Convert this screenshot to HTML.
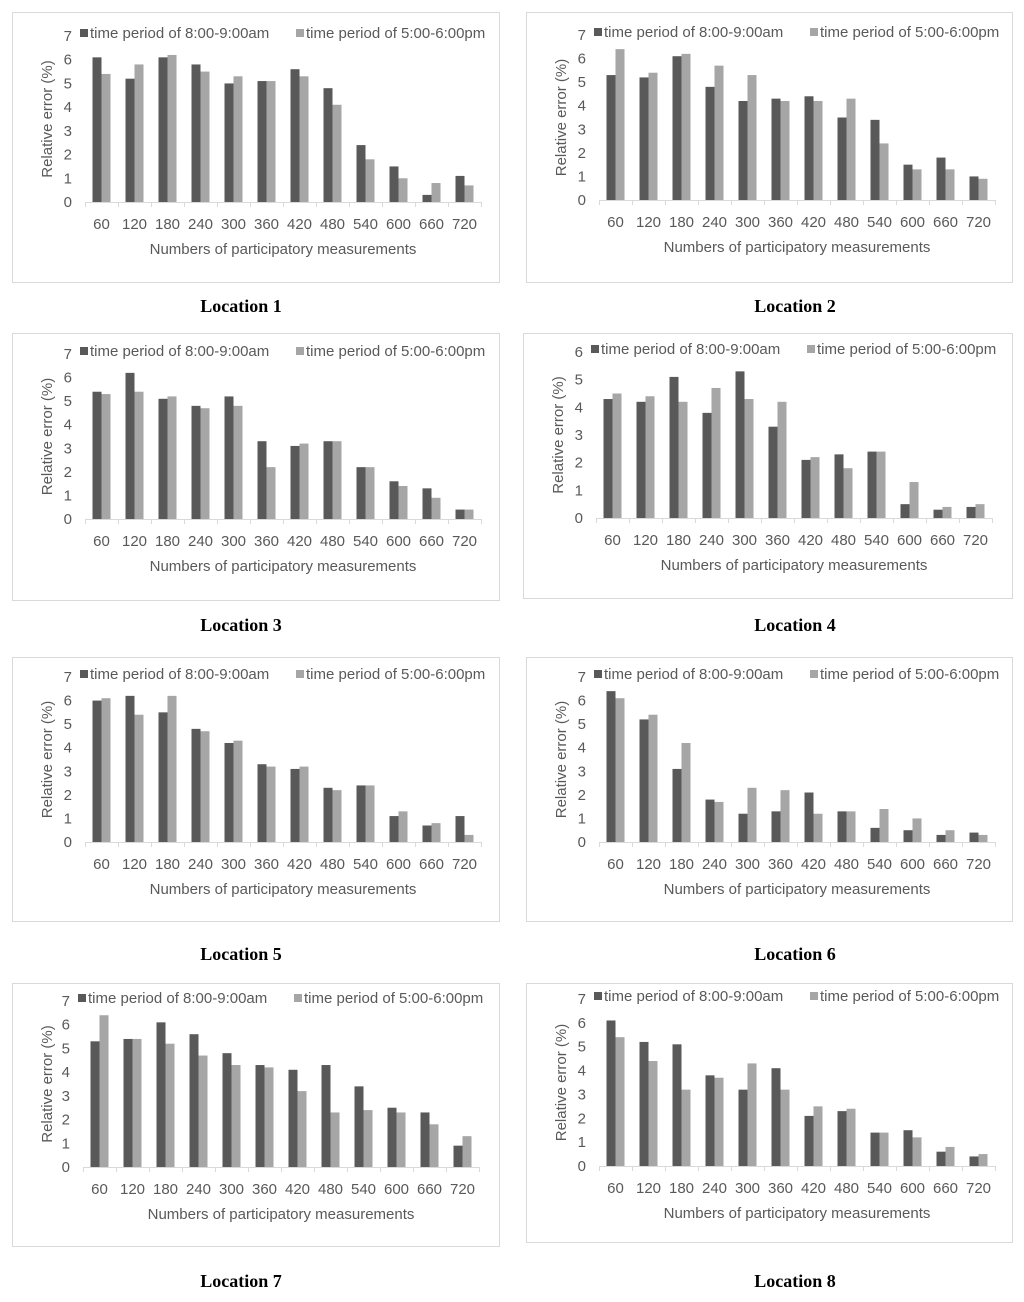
<!DOCTYPE html>
<html><head><meta charset="utf-8"><style>
body{margin:0;background:#fff}
svg{display:block;font-family:"Liberation Sans",sans-serif}
.t{fill:#595959;font-size:15px}
.loc{font-family:"Liberation Serif",serif;font-weight:bold;font-size:18px;fill:#000}
</style></head><body>
<svg id="s" width="1024" height="1302" viewBox="0 0 1024 1302"></svg>
<script>
const categories=[60,120,180,240,300,360,420,480,540,600,660,720];
const seriesNames=["time period of 8:00-9:00am","time period of 5:00-6:00pm"];
const loc1Am=[6.1,5.2,6.1,5.8,5.0,5.1,5.6,4.8,2.4,1.5,0.3,1.1];
const loc1Pm=[5.4,5.8,6.2,5.5,5.3,5.1,5.3,4.1,1.8,1.0,0.8,0.7];
const loc2Am=[5.3,5.2,6.1,4.8,4.2,4.3,4.4,3.5,3.4,1.5,1.8,1.0];
const loc2Pm=[6.4,5.4,6.2,5.7,5.3,4.2,4.2,4.3,2.4,1.3,1.3,0.9];
const loc3Am=[5.4,6.2,5.1,4.8,5.2,3.3,3.1,3.3,2.2,1.6,1.3,0.4];
const loc3Pm=[5.3,5.4,5.2,4.7,4.8,2.2,3.2,3.3,2.2,1.4,0.9,0.4];
const loc4Am=[4.3,4.2,5.1,3.8,5.3,3.3,2.1,2.3,2.4,0.5,0.3,0.4];
const loc4Pm=[4.5,4.4,4.2,4.7,4.3,4.2,2.2,1.8,2.4,1.3,0.4,0.5];
const loc5Am=[6.0,6.2,5.5,4.8,4.2,3.3,3.1,2.3,2.4,1.1,0.7,1.1];
const loc5Pm=[6.1,5.4,6.2,4.7,4.3,3.2,3.2,2.2,2.4,1.3,0.8,0.3];
const loc6Am=[6.4,5.2,3.1,1.8,1.2,1.3,2.1,1.3,0.6,0.5,0.3,0.4];
const loc6Pm=[6.1,5.4,4.2,1.7,2.3,2.2,1.2,1.3,1.4,1.0,0.5,0.3];
const loc7Am=[5.3,5.4,6.1,5.6,4.8,4.3,4.1,4.3,3.4,2.5,2.3,0.9];
const loc7Pm=[6.4,5.4,5.2,4.7,4.3,4.2,3.2,2.3,2.4,2.3,1.8,1.3];
const loc8Am=[6.1,5.2,5.1,3.8,3.2,4.1,2.1,2.3,1.4,1.5,0.6,0.4];
const loc8Pm=[5.4,4.4,3.2,3.7,4.3,3.2,2.5,2.4,1.4,1.2,0.8,0.5];
const yMaxes=[7,7,7,6,7,7,7,7];
const panels=[
 {n:1,am:loc1Am,pm:loc1Pm,fx:12,fy:12,fw:487,fh:270,ax:85,y0:202,yt:36,lab:306,lx:241},
 {n:2,am:loc2Am,pm:loc2Pm,fx:526,fy:12,fw:486,fh:270,ax:599,y0:200,yt:35,lab:306,lx:795},
 {n:3,am:loc3Am,pm:loc3Pm,fx:12,fy:333,fw:487,fh:267,ax:85,y0:519,yt:354,lab:625,lx:241},
 {n:4,am:loc4Am,pm:loc4Pm,fx:523,fy:333,fw:489,fh:265,ax:596,y0:518,yt:352,lab:625,lx:795},
 {n:5,am:loc5Am,pm:loc5Pm,fx:12,fy:657,fw:487,fh:264,ax:85,y0:842,yt:677,lab:954,lx:241},
 {n:6,am:loc6Am,pm:loc6Pm,fx:526,fy:657,fw:486,fh:264,ax:599,y0:842,yt:677,lab:954,lx:795},
 {n:7,am:loc7Am,pm:loc7Pm,fx:12,fy:983,fw:487,fh:263,ax:83,y0:1167,yt:1001,lab:1281,lx:241},
 {n:8,am:loc8Am,pm:loc8Pm,fx:526,fy:983,fw:486,fh:259,ax:599,y0:1166,yt:999,lab:1281,lx:795}
];
const svg=document.getElementById('s');
const NS='http://www.w3.org/2000/svg';
function mk(tag,attrs,parent,text){const e=document.createElementNS(NS,tag);for(const k in attrs)e.setAttribute(k,attrs[k]);if(text!==undefined)e.textContent=text;parent.appendChild(e);return e;}
panels.forEach((p,pi)=>{
 const ymax=yMaxes[pi];
 const g=mk('g',{},svg);
 
 
 const fr=mk('rect',{x:p.fx+0.5,y:p.fy+0.5,width:p.fw,height:p.fh,fill:'#fff',stroke:'#d9d9d9'},g);
 
 
 const step=33;
 const xs=i=>p.ax+step*i+step/2;
 const ys=v=>p.y0-(v/ymax)*(p.y0-p.yt);
 for(let v=0;v<=ymax;v++){
  const t=mk('text',{x:p.ax-13,y:ys(v)+5,'text-anchor':'end',class:'t'},g,String(v));
  
  
 }
 const ax=mk('line',{x1:p.ax,x2:p.ax+step*12,y1:p.y0+0.5,y2:p.y0+0.5,stroke:'#d9d9d9'},g);
 
 
 for(let i=0;i<=12;i++){mk('line',{x1:p.ax+step*i+0.5,x2:p.ax+step*i+0.5,y1:p.y0,y2:p.y0+5,stroke:'#d9d9d9'},g);}
 categories.forEach((c,i)=>{
  const t=mk('text',{x:xs(i),y:p.y0+27,'text-anchor':'middle',class:'t'},g,String(c));
  
  
  const a=mk('rect',{x:xs(i)-9,y:ys(p.am[i]),width:9,height:p.y0-ys(p.am[i]),fill:'#595959'},g);
  
  
  const b=mk('rect',{x:xs(i),y:ys(p.pm[i]),width:9,height:p.y0-ys(p.pm[i]),fill:'#a6a6a6'},g);
  
  
 });
 const xt=mk('text',{x:p.ax+step*6,y:p.y0+52,'text-anchor':'middle',class:'t'},g,'Numbers of participatory measurements');
 
 
 const ymid=(p.y0+p.yt)/2;
 const yt=mk('text',{x:p.fx+40,y:ymid,'text-anchor':'middle',class:'t',transform:'rotate(-90 '+(p.fx+40)+' '+ymid+')'},g,'Relative error (%)');
 
 
 const ly=p.yt+3;
 const l1=mk('rect',{x:p.ax-5,y:ly-10,width:8,height:8,fill:'#595959'},g);
 
 
 const lt1=mk('text',{x:p.ax+5,y:ly-1,class:'t'},g,seriesNames[0]);
 
 
 const l2=mk('rect',{x:p.ax+211,y:ly-10,width:8,height:8,fill:'#a6a6a6'},g);
 
 
 const lt2=mk('text',{x:p.ax+221,y:ly-1,class:'t'},g,seriesNames[1]);
 
 
 const lab=mk('text',{x:p.lx,y:p.lab+6,'text-anchor':'middle',class:'loc'},svg,'Location '+p.n);
 
 
});
</script>
</body></html>
